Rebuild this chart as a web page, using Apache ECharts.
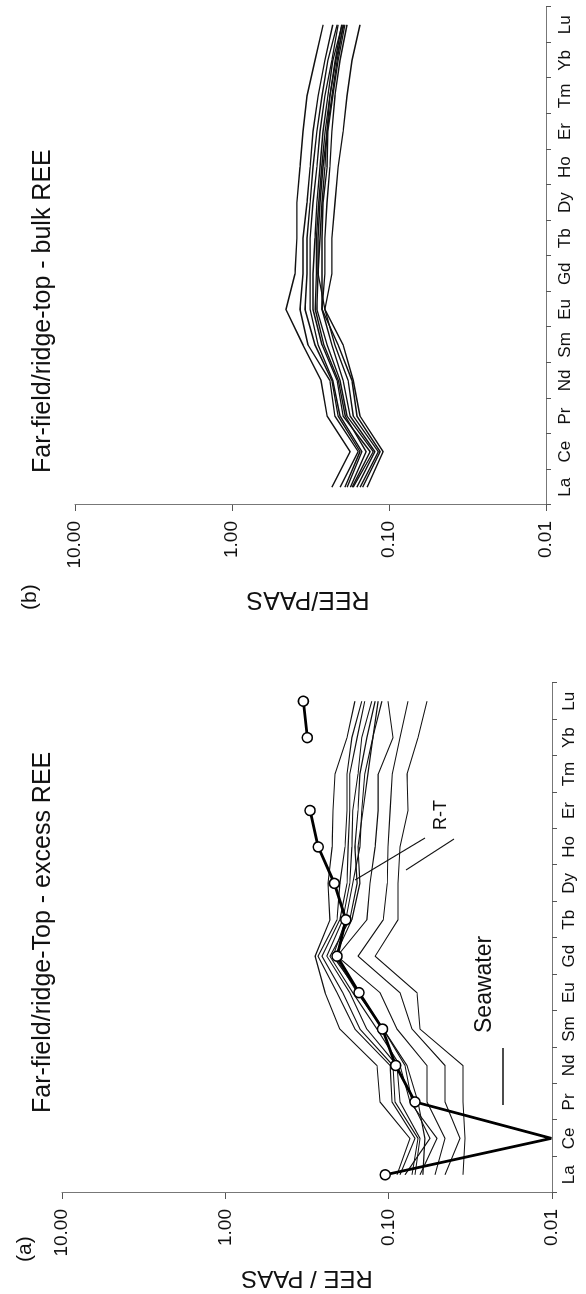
<!DOCTYPE html>
<html><head><meta charset="utf-8">
<script src="https://cdn.jsdelivr.net/npm/echarts@6/dist/echarts.min.js"></script>
<style>
html,body{margin:0;padding:0;width:586px;height:1294px;overflow:hidden;background:#fff}
#chart{position:absolute;left:0;top:0;width:1294px;height:586px;transform-origin:0 0;transform:translate(0,1294px) rotate(-90deg);}
</style></head>
<body><div id="chart"></div>
<script>
// ---- data ----
const ELEMENTS = ['La','Ce','Pr','Nd','Sm','Eu','Gd','Tb','Dy','Ho','Er','Tm','Yb','Lu'];
const VALUE_TICK_LABELS = ['0.01','0.10','1.00','10.00'];

// (a) excess REE, thin lines
const excess1 = [0.0889,0.0741,0.113,0.118,0.199,0.245,0.282,0.229,0.235,0.222,0.219,0.213,0.180,0.161];
const excess2 = [0.0853,0.0690,0.0955,0.098,0.161,0.207,0.271,0.207,0.199,0.185,0.180,0.180,0.168,0.146];
const excess3 = [0.0719,0.0662,0.0914,0.0941,0.150,0.191,0.256,0.199,0.180,0.177,0.173,0.173,0.156,0.140];
const excess4 = [0.0690,0.0643,0.0853,0.0889,0.136,0.173,0.239,0.191,0.173,0.168,0.166,0.154,0.146,0.127];
const excess5 = [0.0643,0.0506,0.0741,0.0853,0.118,0.166,0.229,0.173,0.156,0.161,0.154,0.150,0.136,0.121];
const excess6 = [0.0617,0.0600,0.0662,0.0773,0.108,0.152,0.219,0.183,0.166,0.150,0.146,0.140,0.125,0.116];
const excess7 = [0.0794,0.0558,0.0719,0.0794,0.108,0.156,0.213,0.168,0.150,0.154,0.1435,0.134,0.125,0.110];
const excess8 = [0.0520,0.0452,0.0583,0.0583,0.0889,0.113,0.207,0.136,0.130,0.121,0.116,0.116,0.0941,0.101];
const excess9 = [0.0452,0.0366,0.0452,0.0452,0.0719,0.0853,0.154,0.108,0.102,0.101,0.098,0.095,0.0853,0.0762];
const excess10 = [0.0351,0.0341,0.0351,0.0351,0.0643,0.0671,0.121,0.0877,0.0877,0.0853,0.0762,0.0773,0.0662,0.0583];
// (a) thick line with open circles (no circle drawn at the Ce minimum)
const seawater = [0.105,0.0101,0.069,0.0906,0.109,0.152,0.207,0.183,0.215,0.270,0.303,null,0.315,0.333];
const seawaterNoMarker = ['Ce'];

// (b) bulk REE
const bulk1 = [0.231,0.177,0.248,0.271,0.353,0.453,0.397,0.386,0.386,0.369,0.353,0.333,0.296,0.263];
const bulk2 = [0.205,0.157,0.221,0.238,0.328,0.369,0.353,0.353,0.333,0.318,0.305,0.283,0.256,0.228];
const bulk3 = [0.191,0.153,0.211,0.231,0.296,0.343,0.333,0.333,0.318,0.305,0.288,0.267,0.245,0.214];
const bulk4 = [0.185,0.149,0.205,0.228,0.283,0.318,0.318,0.318,0.305,0.288,0.275,0.256,0.231,0.211];
const bulk5 = [0.172,0.132,0.196,0.214,0.267,0.305,0.305,0.296,0.288,0.275,0.263,0.245,0.228,0.199];
const bulk6 = [0.169,0.126,0.185,0.205,0.248,0.288,0.283,0.283,0.275,0.263,0.248,0.231,0.214,0.196];
const bulk7 = [0.160,0.123,0.177,0.196,0.231,0.267,0.267,0.267,0.263,0.248,0.245,0.228,0.211,0.191];
const bulk8 = [0.153,0.117,0.169,0.182,0.221,0.256,0.283,0.275,0.267,0.256,0.248,0.238,0.218,0.194];
const bulk9 = [0.147,0.114,0.160,0.172,0.211,0.267,0.256,0.256,0.248,0.238,0.231,0.221,0.205,0.185];
const bulk10 = [0.138,0.109,0.153,0.169,0.196,0.256,0.231,0.231,0.221,0.211,0.196,0.185,0.172,0.153];
const bulk11 = [0.176,0.140,0.190,0.210,0.260,0.295,0.290,0.290,0.280,0.268,0.255,0.238,0.220,0.200];

// ---- chart ----
const FONT = 'Liberation Sans, Arial, Helvetica, sans-serif';
const chart = echarts.init(document.getElementById('chart'), null, {renderer:'canvas'});

function catAxis(gi, margin){
  return {gridIndex:gi, type:'category', data:ELEMENTS, boundaryGap:true,
    axisLine:{show:true, lineStyle:{color:'#777', width:1}},
    axisTick:{show:true, length:5, lineStyle:{color:'#555', width:1}},
    axisLabel:{interval:0, fontFamily:FONT, fontSize:17, color:'#111', margin:margin},
    splitLine:{show:false}};
}
function logAxis(gi){
  return {gridIndex:gi, type:'log', logBase:10, min:0.01, max:10,
    axisLine:{show:true, lineStyle:{color:'#777', width:1}},
    axisTick:{show:true, length:6, lineStyle:{color:'#555', width:1}},
    minorTick:{show:false}, splitLine:{show:false}, minorSplitLine:{show:false},
    axisLabel:{fontFamily:FONT, fontSize:19, color:'#111', margin:16,
      formatter: v => VALUE_TICK_LABELS[Math.round(Math.log10(v)) + 2]}};
}
function thin(data, gi, w){
  return {type:'line', xAxisIndex:gi, yAxisIndex:gi, data:data, symbol:'none',
    lineStyle:{color:'#111', width:w}, silent:true, z:2};
}

const seawaterData = seawater.map((v, i) =>
  seawaterNoMarker.includes(ELEMENTS[i]) ? {value:v, symbol:'none'} : v);

const series = [
  thin(excess1,0,1.1), thin(excess2,0,1.1), thin(excess3,0,1.1), thin(excess4,0,1.1),
  thin(excess5,0,1.1), thin(excess6,0,1.1), thin(excess7,0,1.1), thin(excess8,0,1.1),
  thin(excess9,0,1.1), thin(excess10,0,1.1),
  {type:'line', xAxisIndex:0, yAxisIndex:0, data:seawaterData, connectNulls:false,
    symbol:'circle', symbolSize:10, showSymbol:true,
    itemStyle:{color:'#fff', borderColor:'#000', borderWidth:1.6},
    lineStyle:{color:'#000', width:2.8}, z:5},
  thin(bulk1,1,1.4), thin(bulk2,1,1.4), thin(bulk3,1,1.4), thin(bulk4,1,1.4),
  thin(bulk5,1,1.4), thin(bulk6,1,1.4), thin(bulk7,1,1.4), thin(bulk8,1,1.4),
  thin(bulk9,1,1.4), thin(bulk10,1,1.4), thin(bulk11,1,1.4)
];

const txt = (x,y,s,size,extra) => Object.assign({type:'text', x:x, y:y,
  style:{text:s, fontFamily:FONT, fontSize:size, fill:'#111', textAlign:'left', textVerticalAlign:'middle'}}, extra||{});

chart.setOption({
  animation:false,
  backgroundColor:'#fff',
  grid:[
    {left:101, top:62, width:510, height:490},
    {left:789, top:75, width:498, height:471}
  ],
  xAxis:[catAxis(0,9), catAxis(1,11)],
  yAxis:[logAxis(0), logAxis(1)],
  series:series,
  graphic:[
    txt(32, 25, '(a)', 21),
    txt(684, 30, '(b)', 21),
    txt(181, 43, 'Far-field/ridge-Top - excess REE', 25),
    txt(821, 43, 'Far-field/ridge-top - bulk REE', 25),
    {type:'text', x:16, y:307, rotation:Math.PI/2,
      style:{text:'REE / PAAS', fontFamily:FONT, fontSize:24, fill:'#111', textAlign:'center', textVerticalAlign:'middle'}},
    {type:'text', x:695, y:308, rotation:Math.PI/2,
      style:{text:'REE/PAAS', fontFamily:FONT, fontSize:25, fill:'#111', textAlign:'center', textVerticalAlign:'middle'}},
    txt(261, 485, 'Seawater', 23),
    {type:'line', shape:{x1:189, y1:503, x2:246, y2:503}, style:{stroke:'#111', lineWidth:1.5}},
    txt(464, 441, 'R-T', 18),
    {type:'line', shape:{x1:456, y1:425, x2:414, y2:355}, style:{stroke:'#111', lineWidth:1.2}},
    {type:'line', shape:{x1:455, y1:454, x2:424, y2:406}, style:{stroke:'#111', lineWidth:1.2}}
  ]
});
</script>
</body></html>
